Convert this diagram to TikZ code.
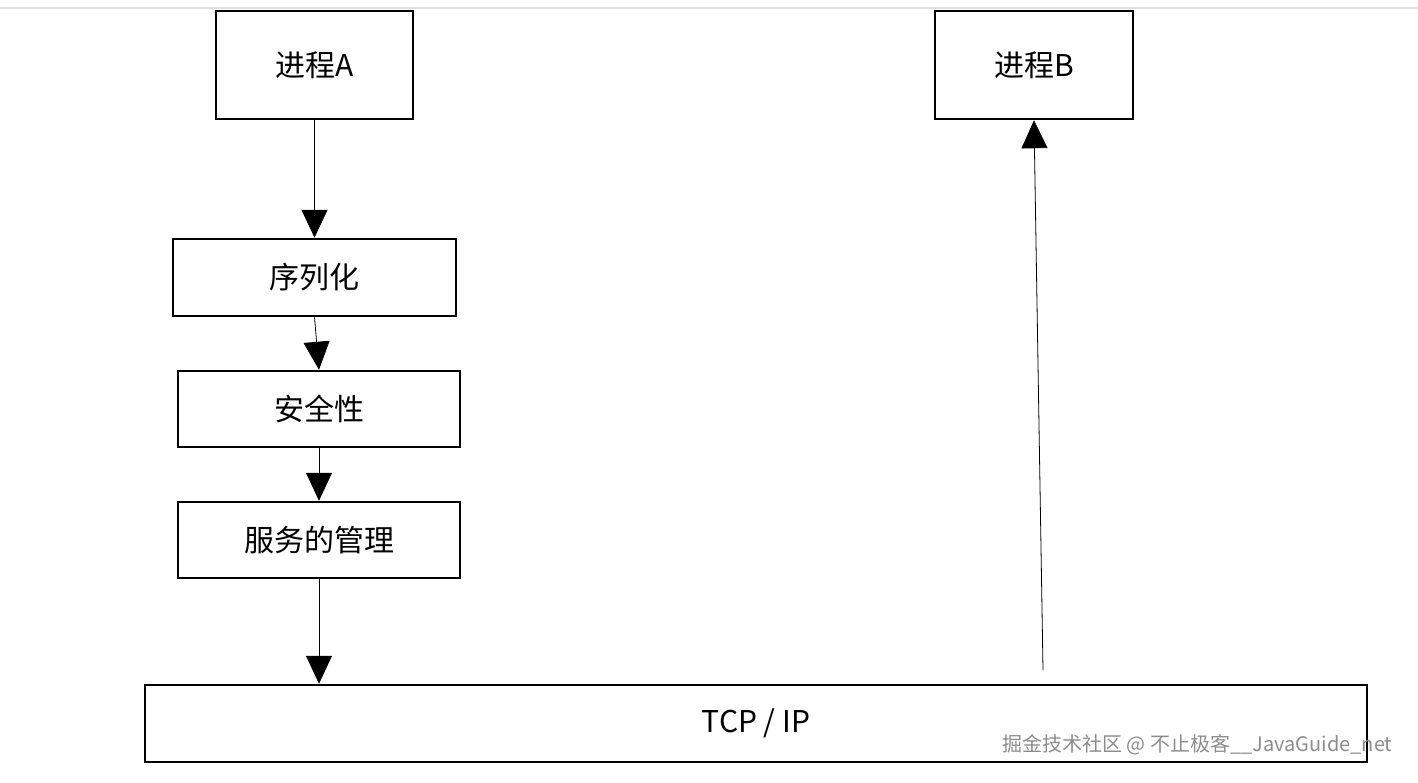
\documentclass[tikz,border=0pt]{standalone}
\usepackage{fontspec}
\setmainfont{Liberation Sans}
\newfontfamily\cjk{Noto Sans CJK SC}
\usetikzlibrary{arrows.meta,positioning}
\begin{document}
\begin{tikzpicture}[
    x=1pt, y=-1pt,
    box/.style={draw, line width=2.5pt, font=\fontsize{30}{34}\selectfont\cjk,
                inner sep=0pt},
    flow/.style={-{Triangle[length=28pt,width=26pt]}, line width=0.8pt},
  ]
  \useasboundingbox (0,0) rectangle (1418,782);
  \draw[black!12, line width=2pt] (0,8) -- (1418,8);
  % processes
  \node[box, minimum width=197pt, minimum height=108pt] (procA) at (314.5,65) {进程A};
  \node[box, minimum width=198pt, minimum height=108pt] (procB) at (1034,65) {进程B};
  % layers
  \node[box, minimum width=283pt, minimum height=77pt] (serial) at (314.5,277.5) {序列化};
  \node[box, minimum width=282pt, minimum height=76pt] (secure) at (319,409) {安全性};
  \node[box, minimum width=282pt, minimum height=76pt] (manage) at (319,540) {服务的管理};
  \node[box, minimum width=1222pt, minimum height=77pt] (tcp) at (756,723.5) {TCP / IP};
  \coordinate (rise) at (1043,670);
  % connectors
  \draw[flow] (procA.south) -- (serial.north);
  \draw[flow] (serial.south) -- (secure.north);
  \draw[flow] (secure.south) -- (manage.north);
  \draw[flow] (manage.south) -- (tcp.north-|manage.south);
  \draw[flow] (rise) -- (procB.south);
  % watermark
  \node[font=\fontsize{20}{22}\selectfont\cjk, text=black!45, anchor=east] (mark)
    at (1396,745) {掘金技术社区 @ 不止极客\_\_JavaGuide\_net};
\end{tikzpicture}
\end{document}
